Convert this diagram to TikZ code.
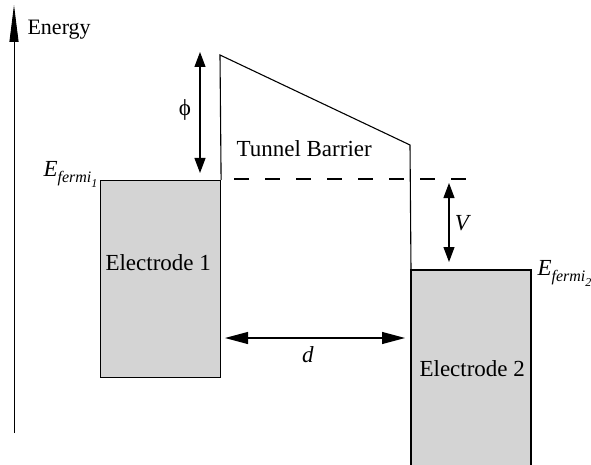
\documentclass[tikz,border=0pt]{standalone}
\usepackage{fontspec}
\setmainfont{Liberation Serif}
\newfontfamily\tmsfont{Liberation Serif}
\usetikzlibrary{arrows.meta}
\definecolor{elgray}{RGB}{212,212,212}
\newcommand{\efermi}[1]{\textit{E}\raisebox{-0.28em}{\fontsize{16}{16}\selectfont\textit{fermi}\raisebox{-0.3em}{\fontsize{12}{12}\selectfont\textit{#1}}}}
\begin{document}
\begin{tikzpicture}[x=1pt,y=-1pt,
  line width=1.1pt,
  lbl/.style={font=\tmsfont\fontsize{23}{27}\selectfont, inner sep=0pt},
  electrode/.style={draw, fill=elgray, inner sep=0pt, anchor=north west},
  dimarrow/.style={{Triangle[length=15pt,width=11pt]}-{Triangle[length=15pt,width=11pt]}},
  darrow/.style={{Triangle[length=23pt,width=12pt]}-{Triangle[length=23pt,width=12pt]}}]
\useasboundingbox (0,0) rectangle (591,465);
% energy axis
\coordinate (axb) at (14,433);
\coordinate (axt) at (14,5);
\draw[line width=0.9pt, -{Triangle[length=37pt,width=9pt]}] (axb) -- (axt);
\node[lbl, anchor=base west, font=\tmsfont\fontsize{22}{26}\selectfont] (energy) at (27,35) {Energy};
% electrode 1
\node[electrode, minimum width=120pt, minimum height=197pt] (e1) at (100,180) {};
\node[lbl, anchor=base west] (e1lbl) at (105,270) {Electrode 1};
% electrode 2 (open at bottom)
\coordinate (e2tl) at (411,270);
\coordinate (e2tr) at (531,270);
\coordinate (e2bl) at (411,466);
\coordinate (e2br) at (531,466);
\fill[elgray] (e2tl) rectangle (e2br);
\draw (e2bl) -- (e2tl) -- (e2tr) -- (e2br);
\node[lbl, anchor=base west] (e2lbl) at (419,376) {Electrode 2};
% barrier
\coordinate (b2) at (220,55);
\coordinate (b3) at (410,145);
\draw (e1.north east) -- (b2) -- (b3) -- (e2tl);
\node[lbl, anchor=base west] (tb) at (236,157) {Tunnel Barrier};
% fermi level 1 dashed
\coordinate (ds) at (234,179);
\coordinate (de) at (468,179);
\draw[dash pattern=on 15pt off 16pt] (ds) -- (de);
% phi
\coordinate (p1) at (200,52);
\coordinate (p2) at (200,173);
\draw[dimarrow] (p1) -- (p2);
\node[lbl] (phi) at (185,110) {ϕ};
% V
\coordinate (v1) at (449,183);
\coordinate (v2) at (449,262);
\draw[dimarrow] (v1) -- (v2);
\node[lbl] (vlbl) at (463,223) {\textit{V}};
% d
\coordinate (d1) at (225,338);
\coordinate (d2) at (405,338);
\draw[darrow] (d1) -- (d2);
\node[lbl] (dlbl) at (308,355) {\textit{d}};
% fermi labels
\node[lbl, anchor=base west] (ef1) at (43,176) {\efermi{1}};
\node[lbl, anchor=base west] (ef2) at (537,275) {\efermi{2}};
\end{tikzpicture}
\end{document}
